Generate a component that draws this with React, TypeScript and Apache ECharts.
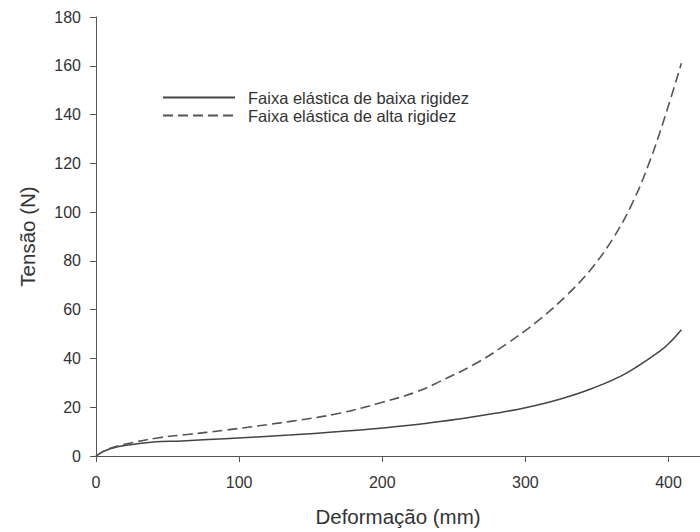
import React, { useEffect, useRef } from "react";
import * as echarts from "echarts";

// Deformation (mm) vs tension (N) for two elastic bands
const lowStiffness: [number, number][] = [
  [0, 0], [5, 1.8], [10, 3], [20, 4.3], [40, 5.7], [60, 6.2], [90, 7.1],
  [135, 8.6], [170, 10], [200, 11.5], [230, 13.3], [254, 15.2], [280, 17.6],
  [300, 19.8], [324, 23.3], [347, 27.8], [370, 33.8], [394, 43],
  [402, 47.2], [409, 51.8],
];

const highStiffness: [number, number][] = [
  [0, 0], [5, 1.9], [10, 3.2], [20, 4.8], [43, 7.4], [65, 8.9], [89, 10.5],
  [136, 14.2], [170, 17.5], [200, 22], [225, 26.5], [240, 30.5], [264, 37.5],
  [287, 46], [310, 56], [329, 66], [345, 76], [361, 89], [375, 104],
  [387, 121], [398, 140], [409, 161],
];

const seriesNames = [
  "Faixa elástica de baixa rigidez",
  "Faixa elástica de alta rigidez",
];

const xTicks = [0, 100, 200, 300, 400];
const yTicks = [0, 20, 40, 60, 80, 100, 120, 140, 160, 180];

const FONT = "Liberation Sans, Arial, sans-serif";
const AXIS = "#555";
const TEXT = "#333";

export default function App() {
  const ref = useRef<HTMLDivElement>(null);

  useEffect(() => {
    if (!ref.current) return;
    const chart = echarts.init(ref.current, undefined, { renderer: "svg" });
    chart.setOption({
      animation: false,
      backgroundColor: "#fff",
      textStyle: { fontFamily: FONT },
      grid: { left: 96, right: 0, top: 17, bottom: 74.5, containLabel: false },
      legend: {
        orient: "vertical",
        left: 157,
        top: 84,
        itemWidth: 72,
        itemHeight: 14,
        itemGap: 1,
        itemStyle: { opacity: 0 },
        textStyle: {
          fontSize: 16.5,
          color: TEXT,
          lineHeight: 16.5,
          padding: [0, 0, 0, 8],
        },
        data: seriesNames,
      },
      xAxis: {
        type: "value",
        min: 0,
        max: 422,
        name: "Deformação (mm)",
        nameLocation: "middle",
        nameGap: 50,
        nameTextStyle: { fontSize: 20.5, color: TEXT },
        splitLine: { show: false },
        axisLine: { show: true, lineStyle: { color: AXIS, width: 1 } },
        axisTick: {
          show: true,
          length: 6,
          lineStyle: { color: AXIS },
          customValues: xTicks,
        },
        axisLabel: {
          fontSize: 16,
          color: TEXT,
          margin: 18,
          customValues: xTicks,
        },
      },
      yAxis: {
        type: "value",
        min: 0,
        max: 180,
        interval: 20,
        name: "Tensão (N)",
        nameLocation: "middle",
        nameGap: 58,
        nameRotate: 90,
        nameTextStyle: { fontSize: 20.5, color: TEXT },
        splitLine: { show: false },
        axisLine: { show: true, lineStyle: { color: AXIS, width: 1 } },
        axisTick: {
          show: true,
          length: 6,
          lineStyle: { color: AXIS },
          customValues: yTicks,
        },
        axisLabel: {
          fontSize: 16,
          color: TEXT,
          margin: 15,
          customValues: yTicks,
        },
      },
      series: [
        {
          name: seriesNames[0],
          type: "line",
          data: lowStiffness,
          smooth: 0.4,
          showSymbol: false,
          symbol: "none",
          itemStyle: { color: "#444" },
          lineStyle: { color: "#444", width: 1.5, type: "solid" },
        },
        {
          name: seriesNames[1],
          type: "line",
          data: highStiffness,
          smooth: 0.4,
          showSymbol: false,
          symbol: "none",
          itemStyle: { color: "#555" },
          lineStyle: { color: "#555", width: 1.6, type: [10, 5] },
        },
      ],
    });
    return () => chart.dispose();
  }, []);

  return (
    <div
      ref={ref}
      style={{ position: "fixed", left: 0, top: 0, width: 700, height: 532 }}
    />
  );
}
